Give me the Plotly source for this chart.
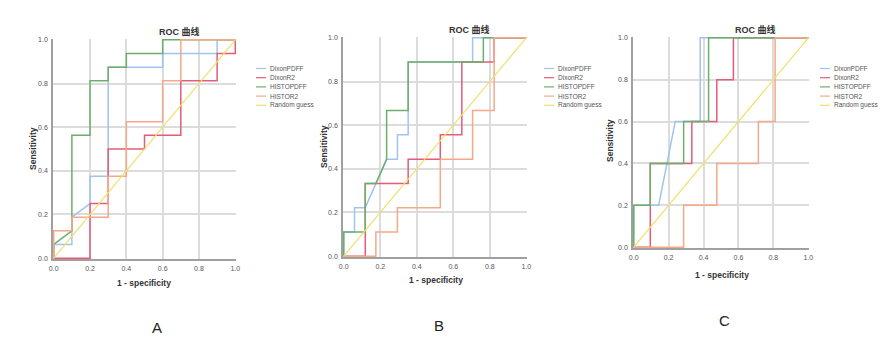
import plotly.graph_objects as go

W, H = 887, 346
OFF = 8  # page body margin offset in the screenshot

series_names = ["DixonPDFF", "DixonR2", "HISTOPDFF", "HISTOR2"]
series_colors = ["#9fc4ef", "#e45c78", "#6cae6c", "#f6a888"]
random_name = "Random guess"
random_color = "#f0e06a"
random_x = [0, 1]
random_y = [0, 1]

# Panel A (1 - specificity, sensitivity)
a_dixonpdff_x = [0, 0, 0.1, 0.1, 0.2, 0.2, 0.3, 0.3, 0.6, 0.6, 0.9, 0.9, 1.0]
a_dixonpdff_y = [0, 0.0625, 0.0625, 0.1875, 0.25, 0.375, 0.375, 0.875, 0.875, 0.9375, 0.9375, 1, 1]
a_dixonr2_x = [0, 0.2, 0.2, 0.3, 0.3, 0.5, 0.5, 0.7, 0.7, 0.9, 0.9, 1.0, 1.0]
a_dixonr2_y = [0, 0, 0.25, 0.25, 0.5, 0.5, 0.5625, 0.5625, 0.8125, 0.8125, 0.9375, 0.9375, 1]
a_histopdff_x = [0, 0, 0.1, 0.1, 0.2, 0.2, 0.3, 0.3, 0.4, 0.4, 0.6, 0.6, 1.0]
a_histopdff_y = [0, 0.0625, 0.125, 0.5625, 0.5625, 0.8125, 0.8125, 0.875, 0.875, 0.9375, 0.9375, 1, 1]
a_histor2_x = [0, 0, 0.1, 0.1, 0.3, 0.3, 0.4, 0.4, 0.6, 0.6, 0.7, 0.7, 1.0]
a_histor2_y = [0, 0.125, 0.125, 0.1875, 0.1875, 0.375, 0.375, 0.625, 0.625, 0.8125, 0.8125, 1, 1]

# Panel B
b_dixonpdff_x = [0, 0, 0.059, 0.059, 0.118, 0.235, 0.294, 0.294, 0.353, 0.353, 0.706, 0.706, 1]
b_dixonpdff_y = [0, 0.111, 0.111, 0.222, 0.222, 0.444, 0.444, 0.556, 0.556, 0.889, 0.889, 1, 1]
b_dixonr2_x = [0, 0.118, 0.118, 0.353, 0.353, 0.529, 0.529, 0.647, 0.647, 0.824, 0.824, 1]
b_dixonr2_y = [0, 0, 0.333, 0.333, 0.444, 0.444, 0.556, 0.556, 0.889, 0.889, 1, 1]
b_histopdff_x = [0, 0, 0.118, 0.118, 0.176, 0.235, 0.235, 0.353, 0.353, 0.765, 0.765, 1]
b_histopdff_y = [0, 0.111, 0.111, 0.333, 0.333, 0.444, 0.667, 0.667, 0.889, 0.889, 1, 1]
b_histor2_x = [0, 0.176, 0.176, 0.294, 0.294, 0.529, 0.529, 0.706, 0.706, 0.824, 0.824, 1]
b_histor2_y = [0, 0, 0.111, 0.111, 0.222, 0.222, 0.444, 0.444, 0.667, 0.667, 1, 1]

# Panel C
c_dixonpdff_x = [0, 0, 0.143, 0.238, 0.381, 0.381, 1]
c_dixonpdff_y = [0, 0.2, 0.2, 0.6, 0.6, 1, 1]
c_dixonr2_x = [0, 0.095, 0.095, 0.333, 0.333, 0.476, 0.476, 0.571, 0.571, 1]
c_dixonr2_y = [0, 0, 0.4, 0.4, 0.6, 0.6, 0.8, 0.8, 1, 1]
c_histopdff_x = [0, 0, 0.095, 0.095, 0.286, 0.286, 0.429, 0.429, 1]
c_histopdff_y = [0, 0.2, 0.2, 0.4, 0.4, 0.6, 0.6, 1, 1]
c_histor2_x = [0, 0.286, 0.286, 0.476, 0.476, 0.714, 0.714, 0.810, 0.810, 1]
c_histor2_y = [0, 0, 0.2, 0.2, 0.4, 0.4, 0.6, 0.6, 1, 1]

tick_vals = [0, 0.2, 0.4, 0.6, 0.8, 1.0]
tick_text = ["0.0", "0.2", "0.4", "0.6", "0.8", "1.0"]
panel_title = "ROC 曲线"
x_title = "1 - specificity"
y_title = "Sensitivity"
panel_letters = ["A", "B", "C"]

panels = [
    [(a_dixonpdff_x, a_dixonpdff_y), (a_dixonr2_x, a_dixonr2_y),
     (a_histopdff_x, a_histopdff_y), (a_histor2_x, a_histor2_y)],
    [(b_dixonpdff_x, b_dixonpdff_y), (b_dixonr2_x, b_dixonr2_y),
     (b_histopdff_x, b_histopdff_y), (b_histor2_x, b_histor2_y)],
    [(c_dixonpdff_x, c_dixonpdff_y), (c_dixonr2_x, c_dixonr2_y),
     (c_histopdff_x, c_histopdff_y), (c_histor2_x, c_histor2_y)],
]

# layout in screenshot pixels: (left, right, top, bottom) of each plot area
plot_boxes = [(53, 236, 39, 259), (343, 527, 37, 257), (633, 809, 37, 248)]
title_pos = [(179, 31), (469, 29), (755, 29)]
ytitle_pos = [(33, 149), (324, 147), (610, 141)]
xtitle_pos = [(144, 283), (436, 280), (722, 275)]
letter_pos = [(157, 327), (439, 325), (724, 320)]
legend_x = [256, 544, 820]
legend_y0 = 68.5
legend_step = 9.2

def px(x):
    return (x - OFF) / W

def py(y):
    return 1 - (y - OFF) / H

FONT = "Liberation Sans, Arial, Noto Sans CJK SC, sans-serif"

fig = go.Figure()
annotations = []
shapes = []
layout_axes = {}

for i, panel in enumerate(panels):
    n = i + 1
    xa = "x" if n == 1 else f"x{n}"
    ya = "y" if n == 1 else f"y{n}"
    for j, (xs, ys) in enumerate(panel):
        fig.add_trace(go.Scatter(x=xs, y=ys, mode="lines", name=series_names[j],
                                 line=dict(color=series_colors[j], width=1.5),
                                 xaxis=xa, yaxis=ya, showlegend=False))
    fig.add_trace(go.Scatter(x=random_x, y=random_y, mode="lines", name=random_name,
                             line=dict(color=random_color, width=1.2),
                             xaxis=xa, yaxis=ya, showlegend=False))
    l, r, t, b = plot_boxes[i]
    axcommon = dict(range=[-0.004, 1.004], tickvals=tick_vals, ticktext=tick_text,
                    showgrid=True, gridcolor="#dcdcdc", gridwidth=1.5, zeroline=False,
                    showline=True, linecolor="#a0a0a0", linewidth=1.5, ticks="",
                    automargin=False,
                    tickfont=dict(size=7, color="#555555", family=FONT), fixedrange=True)
    layout_axes["xaxis" if n == 1 else f"xaxis{n}"] = dict(
        axcommon, domain=[px(l), px(r)], anchor=ya, ticklabelstandoff=2)
    layout_axes["yaxis" if n == 1 else f"yaxis{n}"] = dict(
        axcommon, domain=[py(b), py(t)], anchor=xa, ticklabelstandoff=2)

    tx, ty = title_pos[i]
    annotations.append(dict(x=px(tx), y=py(ty), xref="paper", yref="paper", text=f"<b>{panel_title}</b>",
                            showarrow=False, xanchor="center", yanchor="middle",
                            font=dict(size=9, color="#333333", family=FONT)))
    yx, yy = ytitle_pos[i]
    annotations.append(dict(x=px(yx), y=py(yy), xref="paper", yref="paper", text=f"<b>{y_title}</b>",
                            showarrow=False, xanchor="center", yanchor="middle", textangle=-90,
                            font=dict(size=8.5, color="#333333", family=FONT)))
    xx, xy = xtitle_pos[i]
    annotations.append(dict(x=px(xx), y=py(xy), xref="paper", yref="paper", text=f"<b>{x_title}</b>",
                            showarrow=False, xanchor="center", yanchor="middle",
                            font=dict(size=8.5, color="#333333", family=FONT)))
    lx, ly = letter_pos[i]
    annotations.append(dict(x=px(lx), y=py(ly), xref="paper", yref="paper", text=panel_letters[i],
                            showarrow=False, xanchor="center", yanchor="middle",
                            font=dict(size=15, color="#222222", family=FONT)))
    leg_names = series_names + [random_name]
    leg_colors = series_colors + [random_color]
    for k in range(5):
        yk = legend_y0 + k * legend_step
        shapes.append(dict(type="line", xref="paper", yref="paper",
                           x0=px(legend_x[i]), x1=px(legend_x[i] + 10), y0=py(yk), y1=py(yk),
                           line=dict(color=leg_colors[k], width=1.2)))
        annotations.append(dict(x=px(legend_x[i] + 12), y=py(yk), xref="paper", yref="paper",
                                text=leg_names[k], showarrow=False, xanchor="left", yanchor="middle",
                                font=dict(size=6.5, color="#555555", family=FONT)))

fig.update_layout(template="none", width=W, height=H, autosize=False,
                  margin=dict(l=0, r=0, t=0, b=0, pad=0, autoexpand=False),
                  paper_bgcolor="white", plot_bgcolor="white", showlegend=False,
                  annotations=annotations, shapes=shapes, **layout_axes)

fig.write_html("out.html")
